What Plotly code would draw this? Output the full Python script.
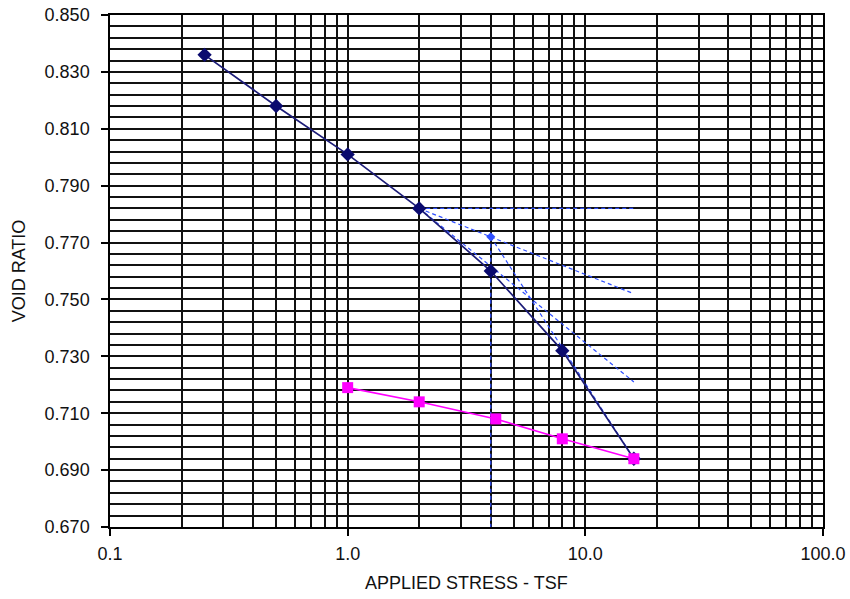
import plotly.graph_objects as go

# ---- data ----
stress_load = [0.25, 0.5, 1.0, 2.0, 4.0, 8.0, 16.0]
void_load = [0.836, 0.818, 0.801, 0.782, 0.760, 0.732, 0.694]

stress_unload = [1.0, 2.0, 4.2, 8.0, 16.0]
void_unload = [0.719, 0.714, 0.708, 0.701, 0.694]

# Casagrande construction lines
horiz_x = [2.0, 16.0]
horiz_y = [0.782, 0.782]
bisector_x = [2.0, 16.0]
bisector_y = [0.782, 0.752]
tangent_x = [2.0, 16.0]
tangent_y = [0.782, 0.721]
virgin_x = [4.0, 16.0]
virgin_y = [0.772, 0.694]
pc_x = [4.0, 4.0]
pc_y = [0.772, 0.670]
pc_point_x = [4.0]
pc_point_y = [0.772]

x_ticks = [0.1, 1.0, 10.0, 100.0]
x_ticktext = ["0.1", "1.0", "10.0", "100.0"]
x_minor = [m * d for d in (0.1, 1.0, 10.0) for m in range(2, 10)]

FONT = "Liberation Sans, Arial, sans-serif"
DASH_BLUE = "#2f4fff"

fig = go.Figure()

dash_style = dict(color=DASH_BLUE, width=1.2, dash="4px,3px")
for xs, ys in [(horiz_x, horiz_y), (bisector_x, bisector_y),
               (tangent_x, tangent_y), (virgin_x, virgin_y), (pc_x, pc_y)]:
    fig.add_trace(go.Scatter(x=xs, y=ys, mode="lines", line=dash_style,
                             hoverinfo="skip", showlegend=False))

fig.add_trace(go.Scatter(x=pc_point_x, y=pc_point_y, mode="markers",
                         marker=dict(symbol="diamond", size=7, color=DASH_BLUE),
                         showlegend=False))

fig.add_trace(go.Scatter(
    x=stress_load, y=void_load, mode="lines+markers",
    line=dict(color="#1c1c78", width=1.7),
    marker=dict(symbol="diamond", size=11, color="#0a0a6e"),
    showlegend=False))

fig.add_trace(go.Scatter(
    x=stress_unload, y=void_unload, mode="lines+markers",
    line=dict(color="#ff00ff", width=1.6),
    marker=dict(symbol="square", size=11, color="#ff00ff"),
    showlegend=False))

fig.update_layout(
    width=850, height=599,
    margin=dict(l=110, r=27, t=15, b=72),
    paper_bgcolor="white", plot_bgcolor="white",
    font=dict(family=FONT, size=18, color="#111"),
    showlegend=False,
)

fig.add_annotation(
    text="APPLIED STRESS - TSF", xref="paper", yref="paper",
    x=0.5, y=0, xanchor="center", yanchor="middle", yshift=-56,
    showarrow=False, font=dict(family=FONT, size=18, color="#111"),
)

fig.update_xaxes(
    type="log", range=[-1, 2], automargin=False,
    tickmode="array", tickvals=x_ticks, ticktext=x_ticktext,
    ticks="outside", ticklen=7, tickcolor="black", tickwidth=1.5,
    ticklabelstandoff=3, ticklabeloverflow="allow",
    showgrid=True, gridcolor="#111", gridwidth=1.5,
    minor=dict(tickmode="array", tickvals=x_minor, showgrid=True,
               gridcolor="#111", gridwidth=1.5, ticks=""),
    showline=True, linecolor="black", linewidth=1.5, mirror=True,
    zeroline=False,
)

fig.update_yaxes(
    range=[0.670, 0.850], automargin=False,
    tickmode="linear", tick0=0.67, dtick=0.02, tickformat=".3f",
    ticks="outside", ticklen=7, tickcolor="black", tickwidth=1.5,
    ticklabelstandoff=8, ticklabeloverflow="allow",
    showgrid=True, gridcolor="#111", gridwidth=1.5,
    minor=dict(tick0=0.67, dtick=0.004, showgrid=True,
               gridcolor="#111", gridwidth=1.5, ticks=""),
    showline=True, linecolor="black", linewidth=1.5, mirror=True,
    zeroline=False,
    title=dict(text="VOID RATIO", font=dict(size=18), standoff=14),
)

fig.write_html("out.html", config={"displayModeBar": False},
               post_script="document.body.style.margin='0';")
